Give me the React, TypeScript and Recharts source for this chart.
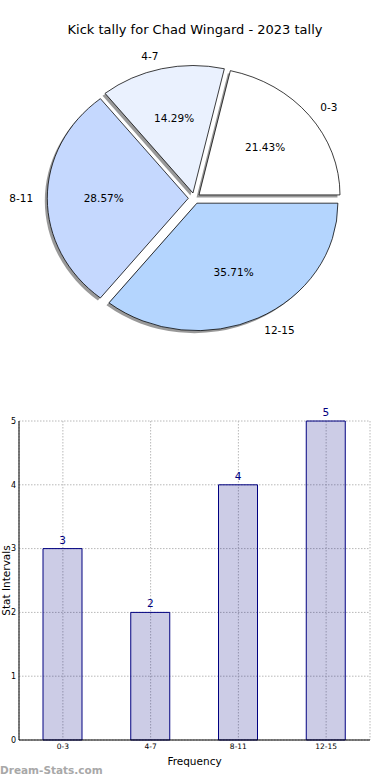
import { Bar, BarChart, CartesianGrid, Cell, LabelList, Pie, PieChart, XAxis, YAxis } from 'recharts'

document.body.style.margin = '0'

const TITLE = 'Kick tally for Chad Wingard - 2023 tally'
const RANGES = ['0-3', '4-7', '8-11', '12-15']
const KICKS = [3, 2, 4, 5]
const SLICE_COLORS = ['#ffffff', '#eaf1fe', '#c5d8fe', '#b4d5fe']
const Y_TICKS = [0, 1, 2, 3, 4, 5]

const FONT = '"DejaVu Sans", sans-serif'
const NAVY = '#000080'

const pieData = RANGES.map((name, i) => ({ name, value: KICKS[i] }))
const barData = RANGES.map((range, i) => ({ range, count: KICKS[i] }))
const total = KICKS.reduce((a, b) => a + b, 0)

// pie is drawn round then squashed vertically (the source pie is an ellipse)
const CX = 194.3
const CY = 198.3
const R = 141
const EXPLODE = 6
const SQUASH = 0.904
const SHADOW = 2.5
const RAD = Math.PI / 180

function midAngleOf(i: number) {
  const before = KICKS.slice(0, i).reduce((a, b) => a + b, 0)
  return ((before + KICKS[i] / 2) / total) * 360
}

function sliceLabel(slice: number) {
  return (props: any) => {
    if (props.index !== slice) return null
    const { cx, cy, midAngle, outerRadius, percent } = props
    const cos = Math.cos(midAngle * RAD)
    const sin = Math.sin(midAngle * RAD)
    const unsquash = `scale(1, ${1 / SQUASH})`
    return (
      <g>
        <text
          transform={`translate(${cx + outerRadius * 0.6 * cos}, ${cy - outerRadius * 0.6 * sin}) ${unsquash}`}
          textAnchor="middle" dominantBaseline="central" fontSize={10.5} fill="#000" fontFamily={FONT}
        >
          {(percent * 100).toFixed(2)}%
        </text>
        <text
          transform={`translate(${cx + outerRadius * 1.1 * cos}, ${cy - outerRadius * 1.1 * sin}) ${unsquash}`}
          textAnchor={cos > 0 ? 'start' : 'end'} dominantBaseline="central" fontSize={10.5} fill="#000" fontFamily={FONT}
        >
          {RANGES[slice]}
        </text>
      </g>
    )
  }
}

function KickPie() {
  return (
    <div style={{ position: 'absolute', top: 0, left: 0, transform: `scaleY(${SQUASH})`, transformOrigin: `${CX}px ${CY}px` }}>
      <PieChart width={390} height={400} margin={{ top: 0, right: 0, bottom: 0, left: 0 }}>
        {RANGES.map((_, s) => {
          const m = midAngleOf(s)
          return (
            <Pie
              key={`shadow-${s}`} data={pieData} dataKey="value" nameKey="name"
              cx={CX + EXPLODE * Math.cos(m * RAD) - SHADOW} cy={CY - EXPLODE * Math.sin(m * RAD) + SHADOW / SQUASH}
              outerRadius={R} startAngle={0} endAngle={360} isAnimationActive={false}
            >
              {pieData.map((_, i) => (
                <Cell key={i} fill={i === s ? '#000' : 'none'} fillOpacity={0.4} stroke="none" />
              ))}
            </Pie>
          )
        })}
        {RANGES.map((_, s) => {
          const m = midAngleOf(s)
          return (
            <Pie
              key={`slice-${s}`} data={pieData} dataKey="value" nameKey="name"
              cx={CX + EXPLODE * Math.cos(m * RAD)} cy={CY - EXPLODE * Math.sin(m * RAD)}
              outerRadius={R} startAngle={0} endAngle={360} isAnimationActive={false}
              labelLine={false} label={sliceLabel(s)}
            >
              {pieData.map((_, i) => (
                <Cell key={i} fill={i === s ? SLICE_COLORS[i] : 'none'} stroke={i === s ? '#000' : 'none'} strokeWidth={0.8} />
              ))}
            </Pie>
          )
        })}
      </PieChart>
    </div>
  )
}

function KickBars() {
  return (
    <div style={{ position: 'absolute', top: 400, left: 0 }}>
      <BarChart width={390} height={380} data={barData} margin={{ top: 21, right: 20, bottom: 0, left: 0 }}>
        <CartesianGrid stroke="#b8b8b8" strokeDasharray="1.5 1.5" />
        <XAxis
          dataKey="range" height={40} tickLine={false} tickSize={3} tickMargin={1}
          tick={{ fontSize: 7.5, fill: '#000', fontFamily: FONT }} axisLine={{ stroke: '#000' }}
          label={{ value: 'Frequency', position: 'insideBottom', offset: 15, fontSize: 10.5, fill: '#000', fontFamily: FONT }}
        />
        <XAxis xAxisId="top" orientation="top" dataKey="range" height={0} tick={false} tickLine={false} axisLine={{ stroke: '#000' }} />
        <YAxis
          width={19} domain={[0, 5]} ticks={Y_TICKS} tickLine={false} tickSize={1} tickMargin={2}
          tick={{ fontSize: 8, fill: '#000', fontFamily: FONT }} axisLine={{ stroke: '#000' }}
          label={{ value: 'Stat Intervals', angle: -90, position: 'center', dx: -3, fontSize: 10.5, fill: '#000', fontFamily: FONT }}
        />
        <YAxis yAxisId="right" orientation="right" width={0} tick={false} tickLine={false} axisLine={{ stroke: '#000' }} />
        <Bar dataKey="count" barSize={39} fill={NAVY} fillOpacity={0.2} stroke={NAVY} strokeWidth={1} isAnimationActive={false}>
          <LabelList dataKey="count" position="top" fill={NAVY} stroke="none" fontSize={10.5} fontFamily={FONT} />
        </Bar>
      </BarChart>
    </div>
  )
}

export default function App() {
  return (
    <div style={{ position: 'relative', width: 390, height: 780, background: '#fff', fontFamily: FONT, overflow: 'hidden' }}>
      <KickPie />
      <div style={{ position: 'absolute', top: 22, left: 0, width: 390, textAlign: 'center', fontSize: 13, lineHeight: '16px' }}>
        {TITLE}
      </div>
      <KickBars />
      <div style={{ position: 'absolute', top: 762, left: 0, fontSize: 10.5, lineHeight: '16px', fontWeight: 'bold', color: '#a8a8a8' }}>
        Dream-Stats.com
      </div>
    </div>
  )
}
